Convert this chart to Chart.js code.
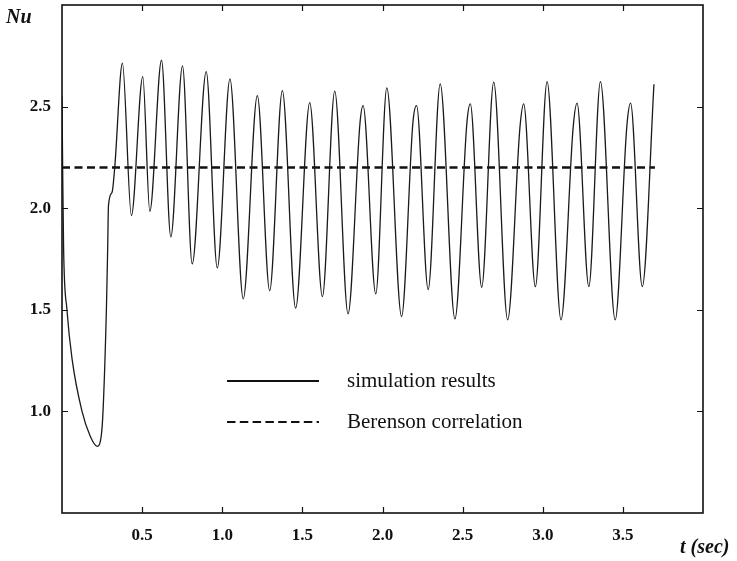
<!DOCTYPE html>
<html>
<head>
<meta charset="utf-8">
<script src="https://cdn.jsdelivr.net/npm/chart.js@4"></script>
<style>
  html, body { margin: 0; padding: 0; background: #fff; }
  #wrap { width: 737px; height: 561px; }
</style>
</head>
<body>
<div id="wrap"><canvas id="nuChart" width="737" height="561"></canvas></div>
<script>
// Values
const simTime = [0, 0.004, 0.01, 0.031, 0.0625, 0.125, 0.175, 0.219, 0.245, 0.256, 0.277, 0.285, 0.29, 0.3125, 0.329,
  0.377, 0.433, 0.504, 0.548, 0.621, 0.679, 0.752, 0.8125, 0.90, 0.969, 1.048, 1.131, 1.219, 1.296, 1.375, 1.458,
  1.546, 1.625, 1.702, 1.785, 1.86, 1.879, 1.958, 2.027, 2.119, 2.19, 2.2125, 2.285, 2.36, 2.452, 2.527, 2.548,
  2.619, 2.694, 2.781, 2.858, 2.881, 2.954, 3.027, 3.114, 3.19, 3.214, 3.2875, 3.36, 3.452, 3.525, 3.548, 3.621, 3.694];
const simNu = [2.55, 2.2, 1.8, 1.5, 1.26, 1.0, 0.88, 0.828, 0.88, 1.0, 1.5, 1.8, 2.013, 2.079, 2.2,
  2.714, 1.964, 2.648, 1.985, 2.728, 1.859, 2.70, 1.726, 2.672, 1.706, 2.636, 1.554, 2.554, 1.594, 2.579, 1.508,
  2.52, 1.565, 2.576, 1.48, 2.423, 2.505, 1.578, 2.592, 1.467, 2.423, 2.505, 1.60, 2.612, 1.455, 2.423, 2.513,
  1.611, 2.62, 1.45, 2.40, 2.513, 1.614, 2.623, 1.45, 2.40, 2.517, 1.614, 2.623, 1.45, 2.406, 2.517, 1.614, 2.61];

const berensonTime = [0, 3.7];
const berensonNu = [2.2, 2.2];

const xTickLabels = ['0.5', '1.0', '1.5', '2.0', '2.5', '3.0', '3.5'];
const yTickLabels = ['1.0', '1.5', '2.0', '2.5'];

const seriesNames = ['simulation results', 'Berenson correlation'];

const serif = '"Liberation Serif", "DejaVu Serif", serif';

// frame, inward ticks, legend and axis titles
const framePlugin = {
  id: 'frame',
  afterDraw(chart) {
    const ctx = chart.ctx;
    const a = chart.chartArea;
    const xs = chart.scales.x;
    const ys = chart.scales.y;
    ctx.save();
    ctx.strokeStyle = '#111';
    ctx.lineWidth = 1.6;
    ctx.strokeRect(a.left, a.top, a.right - a.left, a.bottom - a.top);

    ctx.lineWidth = 1.2;
    const len = 6;
    ctx.beginPath();
    xTickLabels.forEach(l => {
      const px = Math.round(xs.getPixelForValue(parseFloat(l))) + 0.5;
      ctx.moveTo(px, a.bottom); ctx.lineTo(px, a.bottom - len);
      ctx.moveTo(px, a.top); ctx.lineTo(px, a.top + len);
    });
    yTickLabels.forEach(l => {
      const py = Math.round(ys.getPixelForValue(parseFloat(l))) + 0.5;
      ctx.moveTo(a.left, py); ctx.lineTo(a.left + len, py);
      ctx.moveTo(a.right, py); ctx.lineTo(a.right - len, py);
    });
    ctx.stroke();

    // legend
    const ds = chart.data.datasets;
    const rows = [381, 422];
    ctx.font = '21px ' + serif;
    ctx.fillStyle = '#111';
    ds.forEach((d, i) => {
      ctx.beginPath();
      ctx.lineWidth = 2.2;
      ctx.strokeStyle = '#111';
      ctx.setLineDash(i === 0 ? [] : [8.5, 4.3]);
      ctx.moveTo(227, rows[i]);
      ctx.lineTo(319, rows[i]);
      ctx.stroke();
      ctx.setLineDash([]);
      ctx.textBaseline = 'alphabetic';
      ctx.fillText(d.label, 347, rows[i] + 6);
    });

    // axis titles
    ctx.font = 'italic bold 20px ' + serif;
    ctx.fillText('Nu', 6, 23);
    ctx.fillText('t (sec)', 680, 553);
    ctx.restore();
  }
};

new Chart(document.getElementById('nuChart'), {
  type: 'line',
  data: {
    datasets: [
      {
        label: seriesNames[0],
        data: simTime.map((t, i) => ({ x: t, y: simNu[i] })),
        borderColor: '#1a1a1a',
        borderWidth: 1.3,
        pointRadius: 0,
        cubicInterpolationMode: 'monotone',
        fill: false
      },
      {
        label: seriesNames[1],
        data: berensonTime.map((t, i) => ({ x: t, y: berensonNu[i] })),
        borderColor: '#111',
        borderWidth: 2.6,
        borderDash: [8, 4.5],
        pointRadius: 0,
        fill: false
      }
    ]
  },
  options: {
    responsive: false,
    animation: false,
    layout: { padding: { top: 5, right: 34, left: 0, bottom: 0 } },
    plugins: {
      legend: { display: false },
      tooltip: { enabled: false }
    },
    scales: {
      x: {
        type: 'linear',
        min: 0,
        max: 4,
        grid: { display: false, drawTicks: false, tickLength: 0 },
        border: { display: false },
        afterFit: s => { s.height = 48; s.paddingLeft = 0; s.paddingRight = 0; },
        afterBuildTicks: s => { s.ticks = xTickLabels.map(l => ({ value: parseFloat(l) })); },
        ticks: {
          autoSkip: false,
          maxRotation: 0,
          padding: 12,
          color: '#111',
          font: { family: serif, size: 17, weight: 'bold' },
          callback: v => v.toFixed(1)
        }
      },
      y: {
        type: 'linear',
        min: 0.5,
        max: 3.0,
        grid: { display: false, drawTicks: false, tickLength: 0 },
        border: { display: false },
        afterFit: s => { s.width = 62; s.paddingTop = 0; s.paddingBottom = 0; },
        afterBuildTicks: s => { s.ticks = yTickLabels.map(l => ({ value: parseFloat(l) })); },
        ticks: {
          autoSkip: false,
          padding: 11,
          color: '#111',
          font: { family: serif, size: 17, weight: 'bold' },
          callback: v => v.toFixed(1)
        }
      }
    }
  },
  plugins: [framePlugin]
});
</script>
</body>
</html>
